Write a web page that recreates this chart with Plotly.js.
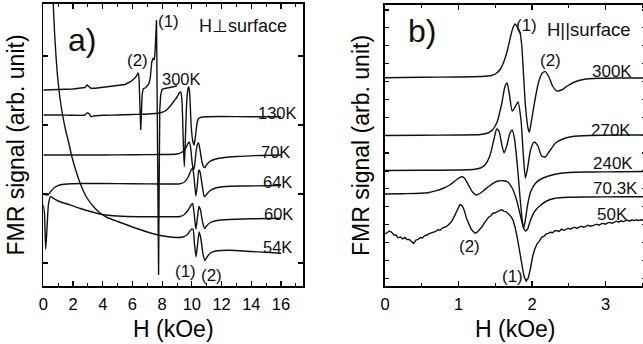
<!DOCTYPE html>
<html>
<head>
<meta charset="utf-8">
<script src="https://cdn.plot.ly/plotly-3.0.1.min.js"></script>
<style>
  html, body { margin: 0; padding: 0; overflow: hidden; background: #fff; }
  #fig { width: 648px; height: 344px; }
</style>
</head>
<body>
<div id="fig"></div>
<script>
// ---------- a) H perpendicular to surface: field (kOe) and FMR signal (arb. units) ----------
const perp300H = [0,0.5,1,1.5,2,2.5,2.8,2.95,3.05,3.2,3.5,4,4.5,5,5.5,5.9,6.2,6.4,6.45,6.5,6.56,6.6,6.65,6.72,6.9,7.1,7.2,7.3,7.4,7.47,7.52,7.62,7.7,7.76,7.8,7.84,7.9,8.0,8.5,9.0];
const perp300S = [196,196,196.3,196.7,197,197.7,198.5,201,200,197.7,197.7,198.5,199.3,200,201.5,204.5,208.5,213.3,206,181,156,171,191,197,198.5,202,208,224,228,226,234,266,136,11,106,176,191,197,198.5,200];

const perp130H = [0,1,2,2.8,2.95,3.1,3.2,3.4,4,5,6,7,7.8,8.2,8.55,8.8,9.0,9.15,9.25,9.33,9.42,9.49,9.56,9.66,9.75,9.8,9.86,9.95,10.05,10.15,10.25,10.35,10.45,10.7,12,14,16];
const perp130S = [171,171,170.7,171,173,172,169.3,170,170.7,171,171.5,172,173,175,180,185,189,193,194,186,146,119.3,146,186,198,199,191,161,146,141,151,163,167.5,169,169.5,169.3,169.3];

const perp70H = [0,2,4,6,8,9.0,9.3,9.55,9.72,9.82,9.92,10.02,10.1,10.18,10.28,10.38,10.45,10.55,10.68,10.8,10.88,10.98,11.2,11.6,12.2,13,14.5,16];
const perp70S = [131,131,131,131.3,131.5,132,133.5,137,142,144,138,123,116,120,134,142,143,136,124,119,118.5,121,124.5,127,128.5,129.5,130.5,131];

const perp64H = [0,0.3,0.5,0.75,1.1,1.6,2.5,4,6,8,9.2,9.5,9.75,9.95,10.05,10.15,10.27,10.36,10.47,10.55,10.7,10.84,10.95,11.2,11.6,12.3,13.5,16];
const perp64S = [92,91,94.5,98.5,101,102,102.5,102.5,102.3,102,102.3,104,109,116,117.7,108,90,100,116,114,100,89.3,91,95,98,99.5,100,100.5];

const perp60H = [0,0.08,0.16,0.25,0.35,0.48,0.7,1.0,1.6,2.5,3.3,4.0,5.0,6.5,8,9.2,9.5,9.75,9.95,10.05,10.15,10.27,10.37,10.48,10.58,10.72,10.86,10.98,11.25,11.7,12.5,14,16];
const perp60S = [81,72,37,58,82,89.3,87.5,85,82,77.5,74,71.5,70,69.3,69.3,69.5,71.5,76,81,82.5,73,57,68,79.5,76,64,57.5,60,63.5,65.5,66.5,67.2,67.7];

const perp54H = [0.63,0.67,0.75,0.85,0.97,1.12,1.3,1.5,1.7,1.91,2.2,2.5,2.9,3.4,3.9,4.3,5.0,6.0,7.0,7.6,8.3,9.0,9.4,9.7,9.92,10.07,10.17,10.28,10.38,10.49,10.6,10.75,10.88,11.0,11.25,11.6,12.5,14,16];
const perp54S = [296,282,256,231,208,188,171,156,144,130,115,102,89,79,72,68.5,64.5,59,54,51.5,49.5,48.5,49,51.5,56,57,43,29.3,41,54,48,32,25.5,28.5,33,35,35.7,34.5,32.7];

// ---------- b) H parallel to surface ----------
const par300H = [0,0.5,1.0,1.3,1.45,1.52,1.57,1.62,1.67,1.71,1.74,1.77,1.8,1.835,1.86,1.885,1.91,1.945,1.965,1.99,2.04,2.09,2.14,2.18,2.23,2.28,2.34,2.4,2.48,2.58,2.7,2.9,3.2,3.55];
const par300S = [208.3,208.7,209,209.5,210.5,213,217,225,237,250,258,262,259,254,241,211,181,158,154,164,186,204,213,214.3,209,200,195,196,200,204,206.5,207.7,208,208];

const par270H = [0,0.5,1.0,1.3,1.4,1.46,1.52,1.59,1.63,1.66,1.69,1.73,1.77,1.81,1.85,1.88,1.91,1.94,1.98,2.03,2.08,2.13,2.18,2.24,2.32,2.42,2.55,2.8,3.2,3.55];
const par270S = [150.5,150.7,151,151.5,153,156,163,183,199,203,193,175,179,184,166,133,108,118,136,144,140,130,129,135,143,147,149.5,150.5,151,151];

const par240H = [0,0.5,1.0,1.2,1.3,1.37,1.43,1.48,1.52,1.55,1.59,1.62,1.66,1.7,1.73,1.76,1.8,1.84,1.87,1.885,1.905,1.94,1.98,2.05,2.15,2.3,2.5,2.8,3.2,3.55];
const par240S = [115.5,115.7,116,116.5,118,122,131,146,157,155,141,133,141,153,156,148,121,86,64,58,64,81,94,103,108,111.5,113.5,114,114.3,114.5];

const par70H = [0,0.25,0.48,0.6,0.7,0.8,0.88,0.95,1.0,1.04,1.08,1.11,1.15,1.19,1.24,1.29,1.34,1.41,1.47,1.54,1.61,1.67,1.73,1.79,1.84,1.88,1.91,1.94,1.98,2.04,2.12,2.2,2.3,2.5,2.8,3.2,3.55];
const par70S = [92,92.3,92.7,93.5,95.3,98,101,105,107.7,109.3,108,104.3,99,94,91,92.5,95.3,99.5,102.7,105,105.3,104,98,86,71,59,55,57,66,75,81,85,87.5,88.7,89,89.2,89.3];

const par50H = [0,0.03,0.06,0.09,0.12,0.15,0.18,0.21,0.24,0.27,0.30,0.33,0.36,0.39,0.42,0.45,0.48,0.51,0.54,0.57,0.60,0.63,0.66,0.69,0.72,0.75,0.78,0.81,0.84,0.87,0.90,0.93,0.96,0.99,1.02,1.05,1.08,1.11,1.14,1.17,1.20,1.23,1.26,1.29,1.32,1.35,1.38,1.41,1.44,1.47,1.50,1.53,1.56,1.59,1.62,1.65,1.68,1.71,1.74,1.77,1.80,1.83,1.86,1.89,1.92,1.95,1.98,2.01,2.04,2.07,2.10,2.13,2.16,2.19,2.22,2.25,2.28,2.31,2.34,2.37,2.40,2.43,2.46,2.49,2.52,2.55,2.58,2.61,2.64,2.67,2.70,2.73,2.76,2.79,2.82,2.85,2.88,2.91,2.94,2.97,3.00,3.03,3.06,3.09,3.12,3.15,3.18,3.21,3.24,3.27,3.30,3.33,3.36,3.39,3.42,3.45,3.48,3.51,3.54];
const par50S = [52,53.8,55,53.6,51.2,50.8,48.2,49,47.2,48.6,46.4,46.6,44.8,42.6,45.8,46.6,48.4,48,50.4,51,52.4,53.2,53.6,54.6,56.2,55.8,58,58.6,59.6,61.8,64,67.6,72.8,77,81.6,80.2,75.2,67.4,61.8,57.2,54.4,52.6,54.2,56.4,59.2,62.8,65.8,68.8,70.2,72.8,73.2,74.8,75.6,76.2,74.6,74.2,72.4,69.8,66.2,58.8,48,35,21,10,5,8,18,30,37.4,42.2,44.8,48.6,49.6,51.8,52.6,53.8,53.2,55.2,55.4,54.6,56.8,55.8,56.4,57.8,56.8,57.6,58.8,57.6,58.6,59.8,58.8,59.4,60.8,59.8,60.2,61.2,61.8,60.8,62.2,62.6,61.8,63.2,63.6,62.8,64.2,64.8,63.8,65.2,64.4,65.2,65.8,64.8,66.2,65.4,66.2,65.4,66.2,65.8,66];

// ---------- text labels ----------
const perpTempText = ['300K','130K','70K','64K','60K','54K'];
const perpTempH    = [9.3,15.76,15.66,15.76,15.86,15.79];
const perpTempS    = [207,173,134.5,104.5,72.5,39.5];
const perpModeText = ['(1)','(2)','(1)','(2)'];
const perpModeH    = [8.46,6.34,9.54,11.35];
const perpModeS    = [264.5,226,14.5,11];

const parTempText = ['300K','270K','240K','70.3K','50K'];
const parTempH    = [3.088,3.075,3.095,3.13,3.09];
const parTempS    = [214.5,156,122.5,97.5,72];
const parModeText = ['(1)','(2)','(2)','(1)'];
const parModeH    = [1.93,2.245,1.143,1.741];
const parModeS    = [261,226,39.5,10];

const FONT = 'Liberation Sans, Arial, Helvetica, sans-serif';
const INK = '#111';
const W = 648, HGT = 344;

function curve(xs, ys, xa, ya, shape) {
  return {
    x: xs, y: ys, xaxis: xa, yaxis: ya, type: 'scatter', mode: 'lines',
    line: { color: INK, width: 1.4, shape: shape || 'spline', smoothing: 0.6 },
    hoverinfo: 'skip', showlegend: false
  };
}

const traces = [
  curve(perp300H, perp300S, 'x', 'y', 'linear'),
  curve(perp130H, perp130S, 'x', 'y'),
  curve(perp70H, perp70S, 'x', 'y'),
  curve(perp64H, perp64S, 'x', 'y'),
  curve(perp60H, perp60S, 'x', 'y'),
  curve(perp54H, perp54S, 'x', 'y'),
  curve(par300H, par300S, 'x2', 'y2'),
  curve(par270H, par270S, 'x2', 'y2'),
  curve(par240H, par240S, 'x2', 'y2'),
  curve(par70H, par70S, 'x2', 'y2'),
  curve(par50H, par50S, 'x2', 'y2', 'linear')
];

function label(text, x, y, xr, yr, size) {
  return { text: text, x: x, y: y, xref: xr, yref: yr, showarrow: false,
           xanchor: 'center', yanchor: 'middle',
           font: { family: FONT, size: size, color: INK } };
}

const annotations = [];
perpTempText.forEach((t, i) => annotations.push(label(t, perpTempH[i], perpTempS[i], 'x', 'y', 16.5)));
perpModeText.forEach((t, i) => annotations.push(label(t, perpModeH[i], perpModeS[i], 'x', 'y', 17)));
parTempText.forEach((t, i) => annotations.push(label(t, parTempH[i], parTempS[i], 'x2', 'y2', 17)));
parModeText.forEach((t, i) => annotations.push(label(t, parModeH[i], parModeS[i], 'x2', 'y2', 17)));
annotations.push(label('a)', 2.58, 246.3, 'x', 'y', 32));
annotations.push(label('H\u22A5surface', 13.46, 260.2, 'x', 'y', 18));
annotations.push(label('b)', 0.51, 255, 'x2', 'y2', 32));
annotations.push(label('H||surface', 2.776, 256.5, 'x2', 'y2', 18.5));

const frame = {
  showline: true, linecolor: '#000', linewidth: 1.6, mirror: 'ticks',
  ticks: 'inside', tickcolor: '#000', tickwidth: 1.2, ticklen: 5,
  showgrid: false, zeroline: false, fixedrange: true
};

const layout = {
  width: W, height: HGT,
  margin: { l: 0, r: 0, t: 0, b: 0 },
  paper_bgcolor: '#fff', plot_bgcolor: '#fff',
  font: { family: FONT, color: '#000' },
  xaxis: Object.assign({}, frame, {
    domain: [43.3 / W, 303.3 / W], range: [0, 17.5], anchor: 'y',
    tick0: 0, dtick: 2,
    minor: { dtick: 1, ticks: 'inside', ticklen: 3, tickcolor: '#000', tickwidth: 1 },
    tickfont: { family: FONT, size: 16.5, color: '#000' }, ticklabelstandoff: 3,
    title: { text: 'H (kOe)', font: { family: FONT, size: 23, color: '#000' }, standoff: 8 }
  }),
  yaxis: Object.assign({}, frame, {
    domain: [58 / HGT, 340 / HGT], range: [0, 282], anchor: 'x',
    tick0: 23, dtick: 69, showticklabels: false,
    title: { text: 'FMR signal (arb. unit)', font: { family: FONT, size: 23, color: '#000' }, standoff: 10 }
  }),
  xaxis2: Object.assign({}, frame, {
    domain: [385 / W, 645.5 / W], range: [0, 3.544], anchor: 'y2',
    tick0: 0, dtick: 1,
    minor: { dtick: 0.5, ticks: 'inside', ticklen: 3, tickcolor: '#000', tickwidth: 1 },
    tickfont: { family: FONT, size: 16.5, color: '#000' }, ticklabelstandoff: 3,
    title: { text: 'H (kOe)', font: { family: FONT, size: 23, color: '#000' }, standoff: 8 }
  }),
  yaxis2: Object.assign({}, frame, {
    domain: [58 / HGT, 339 / HGT], range: [0, 281], anchor: 'x2',
    tick0: 7.7, dtick: 17.89, showticklabels: false, ticklen: 4,
    title: { text: 'FMR signal (arb. unit)', font: { family: FONT, size: 23, color: '#000' }, standoff: 7 }
  }),
  annotations: annotations
};

Plotly.newPlot('fig', traces, layout, { staticPlot: true, displayModeBar: false });
</script>
</body>
</html>
